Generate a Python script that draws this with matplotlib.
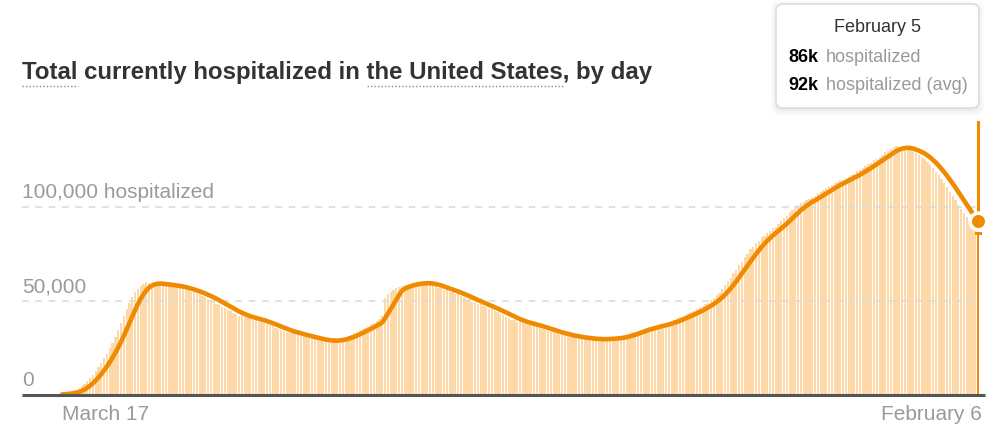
import matplotlib
matplotlib.use("Agg")
import matplotlib.pyplot as plt
import numpy as np
import pandas as pd
from matplotlib.patches import FancyBboxPatch
from matplotlib.lines import Line2D

# ---------------- data (thousands of people currently hospitalized, daily) -------------
hospitalized_k = [
    0.3, 0.5, 0.8, 1.2, 1.8, 2.6, 3.5, 4.6, 5.9, 7.4,
    9.0, 10.8, 12.8, 15.0, 17.2, 19.6, 22.0, 24.8, 27.8, 31.0,
    34.5, 38.2, 42.0, 45.6, 48.9, 52.0, 54.6, 56.6, 58.2, 59.3,
    59.9, 59.6, 59.3, 58.8, 59.2, 58.6, 58.9, 58.3, 58.7, 57.9,
    57.6, 57.8, 56.8, 57.0, 56.1, 55.9, 54.9, 54.8, 53.6, 53.8,
    52.6, 52.3, 50.8, 50.7, 49.8, 48.4, 47.9, 46.8, 46.5, 45.1,
    44.6, 43.4, 43.0, 42.0, 41.9, 41.4, 40.8, 41.0, 40.0, 39.9,
    39.0, 39.3, 38.2, 37.8, 37.0, 36.5, 35.8, 35.1, 34.6, 34.2,
    33.5, 33.1, 32.9, 32.3, 32.1, 31.5, 31.3, 30.8, 30.5, 30.1,
    29.6, 29.5, 29.0, 28.9, 28.7, 28.9, 28.6, 29.0, 29.4, 29.7,
    30.4, 30.7, 31.6, 32.1, 33.1, 33.6, 34.6, 35.1, 35.9, 36.9,
    37.6, 38.4, 39.3, 40.4, 42.2, 51.5, 53.6, 55.0, 56.1, 56.9,
    57.5, 58.0, 58.5, 58.7, 59.1, 59.3, 59.6, 59.7, 59.5, 59.8,
    59.3, 58.9, 58.2, 57.9, 57.0, 56.8, 55.9, 55.8, 54.9, 54.8,
    53.7, 53.5, 52.4, 52.1, 51.0, 50.8, 49.6, 49.5, 48.4, 48.2,
    47.1, 46.9, 45.8, 45.6, 44.5, 44.2, 43.1, 42.7, 41.6, 41.2,
    40.1, 39.8, 38.8, 38.7, 38.2, 38.0, 37.5, 37.3, 36.6, 36.3,
    35.6, 35.3, 34.6, 34.3, 33.6, 33.4, 32.8, 32.6, 32.0, 31.8,
    31.3, 31.1, 30.7, 30.8, 30.3, 30.4, 30.0, 29.9, 29.6, 29.8,
    29.5, 29.7, 29.6, 29.9, 29.8, 30.1, 30.2, 30.4, 30.6, 30.9,
    31.3, 32.1, 32.4, 33.3, 33.5, 34.3, 34.6, 35.3, 35.6, 36.2,
    36.3, 36.9, 37.0, 37.5, 37.7, 38.3, 38.8, 39.6, 40.0, 40.8,
    41.3, 42.2, 42.6, 43.6, 44.1, 44.9, 45.5, 46.6, 47.2, 48.4,
    49.0, 50.6, 51.6, 53.4, 54.5, 56.2, 58.3, 60.4, 62.5, 64.8,
    66.6, 69.0, 70.8, 73.3, 75.2, 77.4, 78.8, 80.8, 82.1, 84.1,
    84.8, 86.3, 87.1, 88.8, 89.5, 91.0, 92.4, 94.1, 95.4, 97.2,
    98.5, 100.3, 100.9, 101.9, 102.5, 103.6, 104.2, 105.3, 106.0, 107.3,
    107.9, 109.2, 110.0, 111.1, 111.6, 112.6, 113.2, 114.3, 114.6, 115.6,
    116.1, 117.1, 117.8, 118.9, 119.8, 121.0, 121.6, 122.9, 123.6, 125.0,
    125.7, 126.8, 127.9, 129.0, 129.8, 131.0, 131.9, 132.4, 131.8, 131.6,
    130.9, 130.9, 130.3, 129.6, 128.7, 127.8, 126.6, 125.3, 123.9, 122.3,
    120.6, 118.7, 116.8, 114.7, 112.6, 110.4, 108.2, 105.9, 103.5, 101.2,
    98.8, 96.6, 94.5, 92.3, 90.2, 88.1, 86.2,
]

title = "Total currently hospitalized in the United States, by day"
underlined_parts = ["Total", "the United States"]
x_tick_labels = ["March 17", "February 6"]
y_tick_values = [0, 50000, 100000]
y_tick_labels = ["0", "50,000", "100,000 hospitalized"]
tooltip_date = "February 5"
tooltip_rows = ["hospitalized", "hospitalized (avg)"]

# ---------------- styling -------------
ORANGE = "#f08a00"
BAR = "#fdd9aa"
GRID = "#dcdcdc"
GREY_TXT = "#9a9a9a"
DARK = "#333333"

plt.rcParams['font.family'] = ['Liberation Sans', 'DejaVu Sans']

W, H = 996, 447
fig = plt.figure(figsize=(W / 100, H / 100), dpi=100)
fig.patch.set_facecolor("white")

values = np.array(hospitalized_k) * 1000.0
avg = pd.Series(values).rolling(7, min_periods=1).mean().to_numpy()
n = len(values)
x = np.arange(n)

# axes geometry in pixels
ax_left, ax_right, ax_top, ax_bot = 22, 985, 122, 395
first_px, last_px = 62, 978
px_per_day = (last_px - first_px) / (n - 1)
px_per_50k = 94.0
val_per_px = 50000.0 / px_per_50k

ax = fig.add_axes([ax_left / W, 1 - ax_bot / H,
                   (ax_right - ax_left) / W, (ax_bot - ax_top) / H])
ax.set_xlim(-(first_px - ax_left) / px_per_day,
            (n - 1) + (ax_right - last_px) / px_per_day)
ax.set_ylim(0, (ax_bot - ax_top) * val_per_px)
ax.axis("off")

# bars
bar_colors = [BAR] * (n - 1) + [ORANGE]
ax.bar(x, values, width=0.8, color=bar_colors, linewidth=0, zorder=1)

# gridlines
for v in y_tick_values[1:]:
    ax.plot([ax.get_xlim()[0], n - 1], [v, v], color=GRID, lw=1.2,
            dashes=(4, 4), zorder=2)
# baseline
ax.plot(ax.get_xlim(), [0, 0], color="#555555", lw=2.2, zorder=4,
        solid_capstyle="butt", clip_on=False)

# average line
ax.plot(x, avg, color=ORANGE, lw=3.3, solid_capstyle="round",
        solid_joinstyle="round", zorder=3)

# hover line + marker
ax.plot([n - 1, n - 1], [avg[-1], ax.get_ylim()[1]], color=ORANGE, lw=2.2,
        zorder=3, clip_on=False)
ax.plot([n - 1 - 0.7, n - 1 + 0.7], [values[-1], values[-1]], color=ORANGE,
        lw=2.2, zorder=3)
ax.plot([n - 1], [avg[-1]], "o", ms=12, mfc=ORANGE, mec="white", mew=2.6,
        zorder=6, clip_on=False)

# y tick labels
for v, lab in zip(y_tick_values, y_tick_labels):
    ax.text(ax.get_xlim()[0], v + 14 * val_per_px, lab, ha="left",
            va="center", fontsize=15, color=GREY_TXT, zorder=5)

# x tick labels
ax.text(0, -20 * val_per_px, x_tick_labels[0], ha="left", va="center",
        fontsize=15, color=GREY_TXT, clip_on=False)
ax.text((n - 1) + 4 / px_per_day, -20 * val_per_px, x_tick_labels[1],
        ha="right", va="center", fontsize=15, color=GREY_TXT, clip_on=False)

# ---------------- overlay in pixel coordinates -------------
ov = fig.add_axes([0, 0, 1, 1], zorder=10)
ov.set_xlim(0, W)
ov.set_ylim(H, 0)
ov.axis("off")
ov.patch.set_alpha(0)

TITLE_FS = 17.3
ov.text(22, 72, title, fontsize=TITLE_FS, fontweight="bold", color=DARK,
        ha="left", va="center")

renderer = fig.canvas.get_renderer()


def text_w(s):
    t = ov.text(0, 0, s, fontsize=TITLE_FS, fontweight="bold")
    w = t.get_window_extent(renderer).width
    t.remove()
    return w


for part in underlined_parts:
    idx = title.index(part)
    end = text_w(title[:idx + len(part)])
    start = end - text_w(part)
    ov.add_line(Line2D([22 + start, 22 + end], [86, 86], color="#888888",
                       lw=1.0, linestyle=(0, (1, 1.5))))

# tooltip
for i, a in enumerate([0.03, 0.025, 0.02]):
    g = 2 + i * 2
    ov.add_patch(FancyBboxPatch((776 - g + 1, 4 - g + 3), 203 + 2 * g - 2,
                                104 + 2 * g - 2,
                                boxstyle="round,pad=0,rounding_size=8",
                                facecolor="black", alpha=a, linewidth=0,
                                zorder=1))
ov.add_patch(FancyBboxPatch((776, 4), 203, 104,
                            boxstyle="round,pad=0,rounding_size=7",
                            facecolor="white", edgecolor="#dddddd", lw=1.2,
                            zorder=2))
ov.text(877, 27, tooltip_date, fontsize=13, color=DARK, ha="center",
        va="center", zorder=3)
row_vals = [values[-1], avg[-1]]
for k, (lab, v) in enumerate(zip(tooltip_rows, row_vals)):
    yy = 57 + 28 * k
    ov.text(788, yy, f"{v / 1000:.0f}k", fontsize=13, fontweight="bold",
            color="black", ha="left", va="center", zorder=3)
    ov.text(826, yy, lab, fontsize=13, color=GREY_TXT, ha="left",
            va="center", zorder=3)

fig.savefig("out.png", dpi=100, facecolor="white")
